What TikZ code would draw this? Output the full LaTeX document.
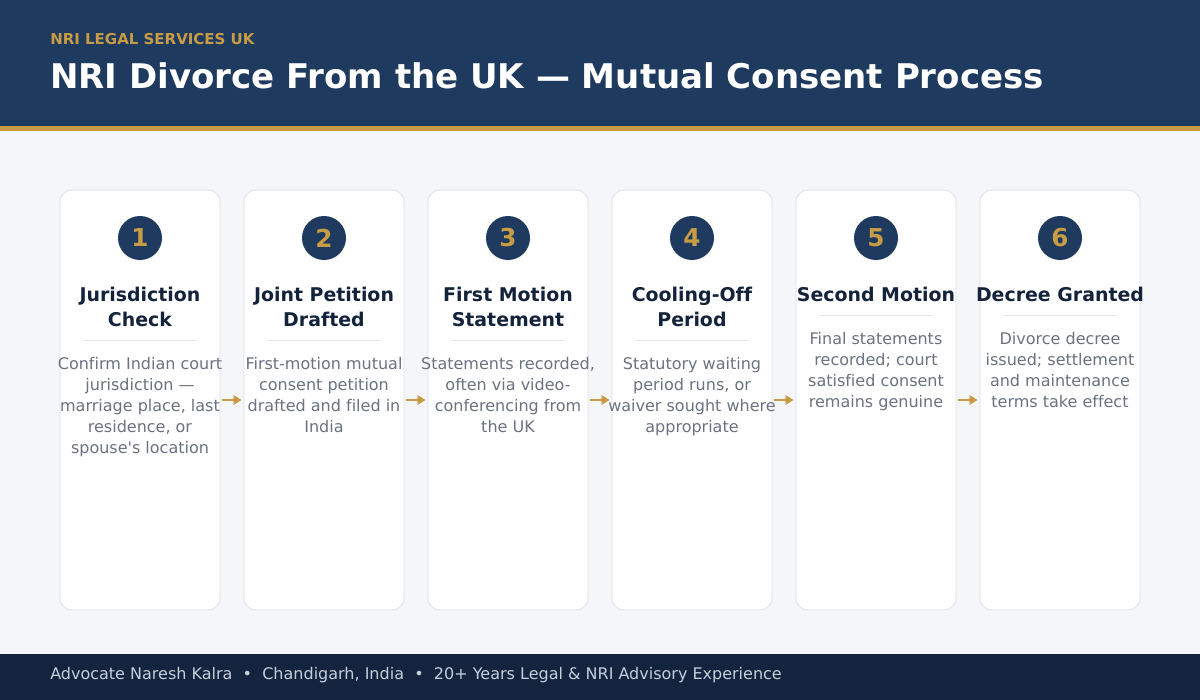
\documentclass[tikz,border=0pt]{standalone}
\usepackage{fontspec}
\setmainfont[Ligatures=NoCommon]{DejaVu Sans}
\usetikzlibrary{arrows.meta,positioning}
\definecolor{navy}{HTML}{1F3A5F}
\definecolor{gold}{HTML}{C89B45}
\definecolor{paper}{HTML}{F5F6FA}
\definecolor{cardline}{HTML}{DCDFE8}
\definecolor{ink}{HTML}{14233C}
\definecolor{muted}{HTML}{6B7280}
\definecolor{footbg}{HTML}{14243F}
\definecolor{foottext}{HTML}{C5CEDB}
\definecolor{rulegrey}{HTML}{E3E6EC}
\tikzset{
    card/.style={draw=cardline, fill=white, line width=0.6pt, rounded corners=9pt,
                 minimum width=120pt, minimum height=315pt},
    badge/.style={circle, fill=navy, minimum size=33pt, inner sep=0pt,
                  text=gold, font=\fontsize{18.5}{18.5}\selectfont\bfseries},
    steptitle/.style={anchor=north, inner sep=0pt, align=center, text=ink,
                      font=\fontsize{14.2}{18.75}\selectfont\bfseries},
    steptext/.style={anchor=north, inner sep=0pt, align=center, text=muted,
                     font=\fontsize{12}{15.75}\selectfont},
    divider/.style={draw=rulegrey, line width=0.75pt},
    flow/.style={-{Triangle[length=6pt, width=7pt]}, draw=gold, line width=1.5pt,
                 shorten <=1.5pt, shorten >=1.5pt},
}
\newcommand{\sep}{\hspace{0.64em}•\hspace{0.64em}}
\begin{document}
\begin{tikzpicture}[x=0.75pt, y=-0.75pt]
    \useasboundingbox (0,0) rectangle (1200,700);
    % bands
    \fill[paper] (0,0) rectangle (1200,700);
    \fill[navy] (0,0) rectangle (1200,126);
    \fill[gold] (0,126) rectangle (1200,131);
    \fill[footbg] (0,654) rectangle (1200,700);

    \node[anchor=base west, inner sep=0pt, text=gold,
          font=\fontsize{11.25}{11.25}\selectfont\bfseries] (kicker) at (50,44) {NRI LEGAL SERVICES UK};
    \node[anchor=base west, inner sep=0pt, text=white,
          font=\fontsize{25.5}{25.5}\selectfont\bfseries] (heading) at (50,88)
          {NRI Divorce From the UK — Mutual Consent Process};

    % steps
    \foreach \i/\dy/\ttl/\txt in {
        1/0/{Jurisdiction\\Check}/{Confirm Indian court\\jurisdiction —\\marriage place, last\\residence, or\\spouse\textquotesingle s location},
        2/0/{Joint Petition\\Drafted}/{First-motion mutual\\consent petition\\drafted and filed in\\India},
        3/0/{First Motion\\Statement}/{Statements recorded,\\often via video-\\conferencing from\\the UK},
        4/0/{Cooling-Off\\Period}/{Statutory waiting\\period runs, or\\waiver sought where\\appropriate},
        5/25/{Second Motion}/{Final statements\\recorded; court\\satisfied consent\\remains genuine},
        6/25/{Decree Granted}/{Divorce decree\\issued; settlement\\and maintenance\\terms take effect}}{
        \pgfmathsetmacro{\x}{140+184*(\i-1)}
        \node[card] (c\i) at (\x,400) {};
        \node[badge] (b\i) at (\x,238) {\i};
        \node[steptitle] (t\i) at (\x,283.5) {\strut\ttl};
        \draw[divider] (\x-56,340-\dy) -- (\x+56,340-\dy);
        \node[steptext] (d\i) at (\x,354.3-\dy) {\strut\txt};
    }
    \foreach \i [evaluate=\i as \j using int(\i+1)] in {1,...,5}
        \draw[flow] (c\i.east) -- (c\j.west);

    \node[anchor=base west, inner sep=0pt, text=foottext,
          font=\fontsize{12}{12}\selectfont] (credit) at (50,679)
          {Advocate Naresh Kalra\sep Chandigarh, India\sep 20+ Years Legal \& NRI Advisory Experience};
\end{tikzpicture}
\end{document}
